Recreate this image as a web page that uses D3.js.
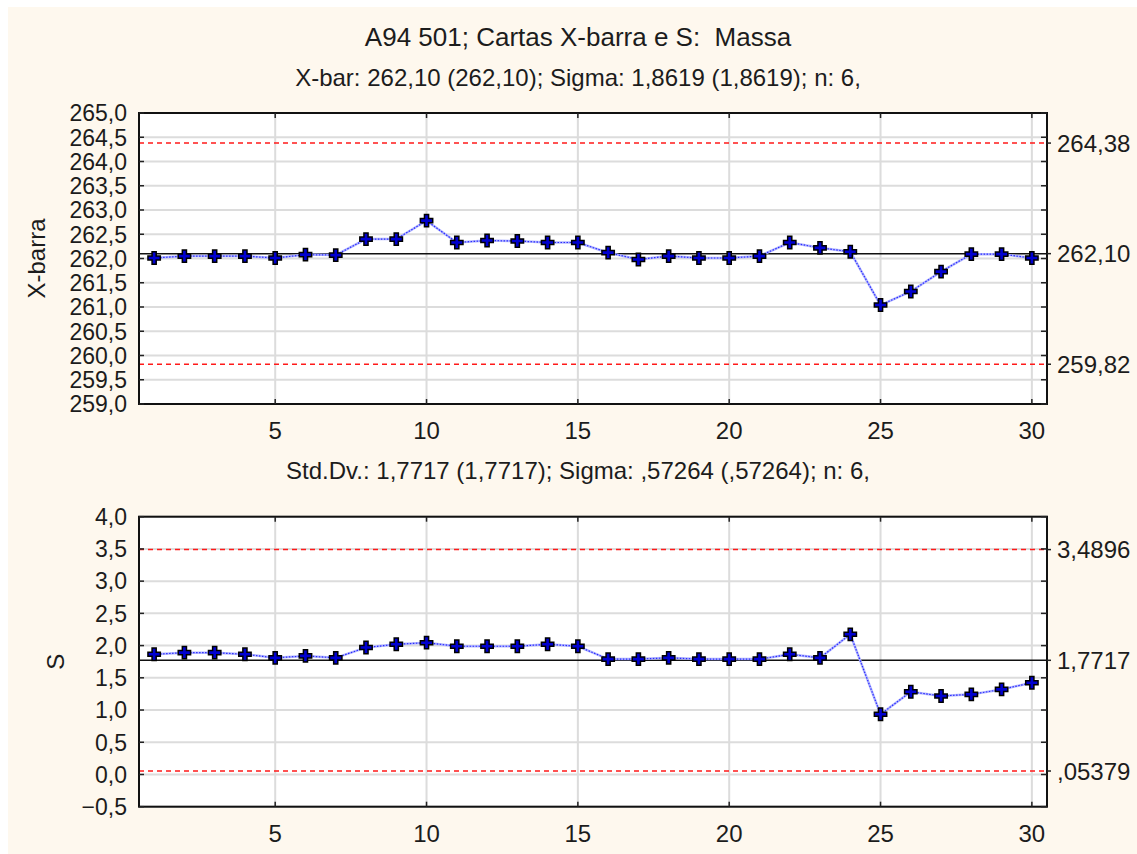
<!DOCTYPE html>
<html>
<head>
<meta charset="utf-8">
<script src="https://cdn.jsdelivr.net/npm/d3@7"></script>
<style>
  body { margin: 0; background: #fff; }
  text { font-family: "Liberation Sans", Arial, sans-serif; fill: #1c1c1c; }
</style>
</head>
<body>
<div id="chart"></div>
<script>
// sample numbers 1..30
var samples = d3.range(1, 31);

// X-bar chart values
var xbarValues = [262.01, 262.05, 262.05, 262.05, 262.01, 262.08, 262.07, 262.40, 262.40, 262.78,
  262.33, 262.37, 262.36, 262.33, 262.33, 262.12, 261.98, 262.05, 262.01, 262.01,
  262.05, 262.33, 262.22, 262.14, 261.04, 261.32, 261.73, 262.09, 262.09, 262.01];
var xbarLimits = [264.38, 262.10, 259.82];
var xbarLimitLabels = ["264,38", "262,10", "259,82"];
var xbarTicks = d3.range(259, 265.001, 0.5);

// S chart values
var sValues = [1.865, 1.89, 1.89, 1.865, 1.81, 1.84, 1.81, 1.97, 2.02, 2.045,
  1.99, 1.99, 1.99, 2.02, 1.99, 1.79, 1.79, 1.81, 1.79, 1.79,
  1.79, 1.865, 1.81, 2.175, 0.934, 1.284, 1.218, 1.243, 1.32, 1.424];
var sLimits = [3.4896, 1.7717, 0.05379];
var sLimitLabels = ["3,4896", "1,7717", ",05379"];
var sTicks = d3.range(-0.5, 4.001, 0.5);

var xTicks = [5, 10, 15, 20, 25, 30];

var title = "A94 501; Cartas X-barra e S:  Massa";
var subtitle1 = "X-bar: 262,10 (262,10); Sigma: 1,8619 (1,8619); n: 6,";
var subtitle2 = "Std.Dv.: 1,7717 (1,7717); Sigma: ,57264 (,57264); n: 6,";

var width = 1137, height = 854;
var svg = d3.select("#chart").append("svg")
  .attr("width", width)
  .attr("height", height);

svg.append("rect")
  .attr("x", 8).attr("y", 7)
  .attr("width", width - 8).attr("height", height - 7)
  .attr("fill", "#fef8ee");

var fmt = v => d3.format(".1f")(v).replace(".", ",");

svg.append("text").attr("x", 578).attr("y", 46)
  .attr("text-anchor", "middle").style("font-size", "26px")
  .style("white-space", "pre").text(title);
svg.append("text").attr("x", 578).attr("y", 86)
  .attr("text-anchor", "middle").style("font-size", "24px").text(subtitle1);
svg.append("text").attr("x", 578).attr("y", 479)
  .attr("text-anchor", "middle").style("font-size", "24px").text(subtitle2);

function drawPanel(cfg) {
  var left = 139, right = 1047;
  var scX = d3.scaleLinear().domain([0.5, 30.5]).range([left, right]);
  var scY = d3.scaleLinear().domain(cfg.domain).range([cfg.bottom, cfg.top]);

  var g = svg.append("g");

  g.append("rect")
    .attr("x", left).attr("y", cfg.top)
    .attr("width", right - left).attr("height", cfg.bottom - cfg.top)
    .attr("fill", "#fff");

  // grid
  g.append("g").selectAll("line").data(cfg.ticks).enter().append("line")
    .attr("x1", left).attr("x2", right)
    .attr("y1", d => scY(d)).attr("y2", d => scY(d))
    .attr("stroke", "#dcdcdc").attr("stroke-width", 2);
  g.append("g").selectAll("line").data(xTicks).enter().append("line")
    .attr("x1", d => scX(d)).attr("x2", d => scX(d))
    .attr("y1", cfg.top).attr("y2", cfg.bottom)
    .attr("stroke", "#dcdcdc").attr("stroke-width", 2);

  // control limits
  g.append("g").selectAll("line").data([cfg.limits[0], cfg.limits[2]]).enter().append("line")
    .attr("x1", left).attr("x2", right)
    .attr("y1", d => scY(d)).attr("y2", d => scY(d))
    .attr("stroke", "#ff1a1a").attr("stroke-width", 1.5)
    .attr("stroke-dasharray", "5,4");
  g.append("line")
    .attr("x1", left).attr("x2", right)
    .attr("y1", scY(cfg.limits[1])).attr("y2", scY(cfg.limits[1]))
    .attr("stroke", "#111").attr("stroke-width", 1.5);

  // series line
  var line = d3.line().x((d, i) => scX(samples[i])).y(d => scY(d));
  g.append("path").datum(cfg.values)
    .attr("d", line).attr("fill", "none")
    .attr("stroke", "#b4b8ff").attr("stroke-width", 2.5);
  g.append("path").datum(cfg.values)
    .attr("d", line).attr("fill", "none")
    .attr("stroke", "#2a2aff").attr("stroke-width", 1.2)
    .attr("stroke-dasharray", "1.5,1.5");

  // markers
  g.append("g").selectAll("path").data(cfg.values).enter().append("path")
    .attr("d", d3.symbol().type(d3.symbolCross).size(85))
    .attr("transform", (d, i) => `translate(${scX(samples[i])},${scY(d)})`)
    .attr("fill", "#0000d0").attr("stroke", "#000").attr("stroke-width", 1.5);

  // frame
  g.append("rect")
    .attr("x", left).attr("y", cfg.top)
    .attr("width", right - left).attr("height", cfg.bottom - cfg.top)
    .attr("fill", "none").attr("stroke", "#111").attr("stroke-width", 2);

  // inward ticks
  var tk = g.append("g").attr("stroke", "#222").attr("stroke-width", 1.5);
  tk.selectAll(".tr").data(cfg.ticks).enter().append("line")
    .attr("x1", right - 6).attr("x2", right)
    .attr("y1", d => scY(d)).attr("y2", d => scY(d));
  tk.selectAll(".tl").data(cfg.ticks).enter().append("line")
    .attr("x1", left).attr("x2", left + 5)
    .attr("y1", d => scY(d)).attr("y2", d => scY(d));
  tk.selectAll(".tt").data(xTicks).enter().append("line")
    .attr("x1", d => scX(d)).attr("x2", d => scX(d))
    .attr("y1", cfg.top).attr("y2", cfg.top + 5);
  tk.selectAll(".tb").data(xTicks).enter().append("line")
    .attr("x1", d => scX(d)).attr("x2", d => scX(d))
    .attr("y1", cfg.bottom - 5).attr("y2", cfg.bottom);
  tk.selectAll(".tc").data(cfg.limits).enter().append("line")
    .attr("x1", right).attr("x2", right + 4)
    .attr("y1", d => scY(d)).attr("y2", d => scY(d));

  // y tick labels
  g.append("g").selectAll("text").data(cfg.ticks).enter().append("text")
    .attr("x", 127).attr("y", d => scY(d)).attr("dy", "0.36em")
    .attr("text-anchor", "end").style("font-size", "23px")
    .text(fmt);

  // x tick labels
  g.append("g").selectAll("text").data(xTicks).enter().append("text")
    .attr("x", d => scX(d)).attr("y", cfg.bottom + 35)
    .attr("text-anchor", "middle").style("font-size", "24px")
    .text(d => d);

  // limit labels
  g.append("g").selectAll("text").data(cfg.limits).enter().append("text")
    .attr("x", 1057).attr("y", d => scY(d)).attr("dy", "0.36em")
    .style("font-size", "24px")
    .text((d, i) => cfg.limitLabels[i]);

  // axis title
  var cy = (cfg.top + cfg.bottom) / 2;
  g.append("text")
    .attr("transform", `translate(${cfg.titleX},${cy}) rotate(-90)`)
    .attr("text-anchor", "middle").attr("dy", "0.36em")
    .style("font-size", "24px")
    .text(cfg.label);
}

drawPanel({
  top: 113, bottom: 404, domain: [259, 265], ticks: xbarTicks,
  values: xbarValues, limits: xbarLimits, limitLabels: xbarLimitLabels,
  label: "X-barra", titleX: 36
});
drawPanel({
  top: 516.7, bottom: 806.7, domain: [-0.5, 4], ticks: sTicks,
  values: sValues, limits: sLimits, limitLabels: sLimitLabels,
  label: "S", titleX: 55
});
</script>
</body>
</html>
